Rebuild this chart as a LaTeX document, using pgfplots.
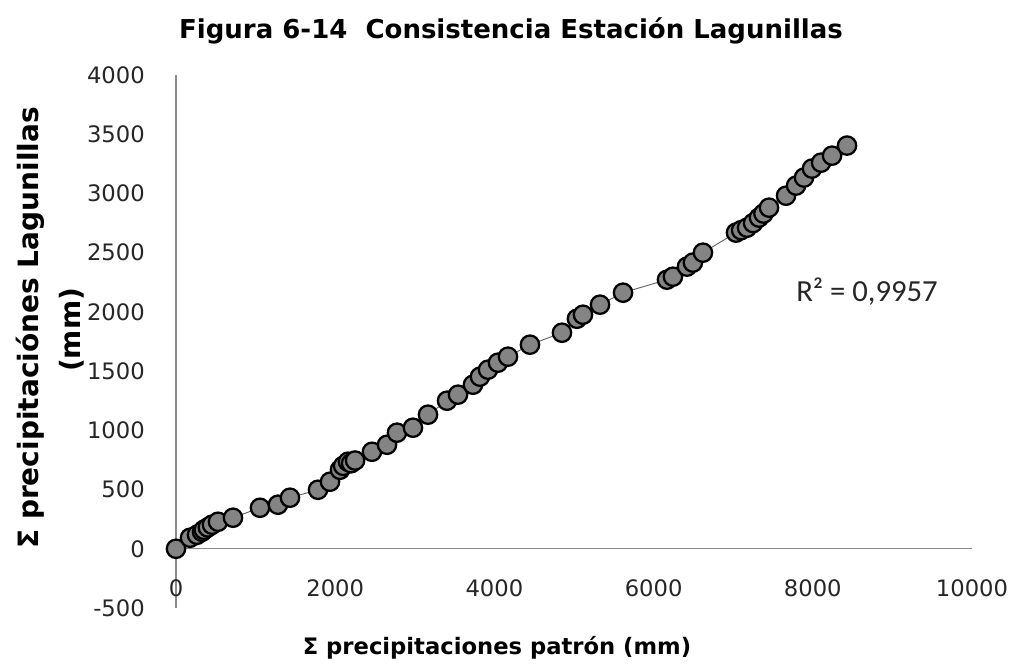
\documentclass[border=0pt]{standalone}
\usepackage{fontspec}
\setmainfont{DejaVu Sans}
\newfontfamily\carlito{Carlito}
\usepackage{pgfplots}
\usepackage{pgfplotstable}
\pgfplotsset{compat=1.18}
\definecolor{axisgray}{RGB}{137,137,137}
\definecolor{markgray}{RGB}{132,132,132}
\definecolor{trendgray}{RGB}{100,100,100}

\pgfplotstableread{
x y
0 0
176 93
264 118
327 143
350 160
400 180
452 203
528 228
716 262
1055 346
1281 372
1432 431
1784 498
1935 566
2060 667
2100 700
2161 735
2200 722
2250 745
2462 819
2651 878
2776 980
2977 1022
3166 1132
3405 1250
3543 1301
3731 1385
3819 1453
3920 1512
4045 1571
4171 1622
4447 1723
4849 1824
5037 1942
5113 1976
5327 2061
5616 2162
6168 2272
6243 2297
6419 2382
6494 2416
6620 2500
7035 2669
7100 2690
7174 2711
7250 2750
7324 2796
7380 2830
7450 2880
7664 2981
7790 3066
7890 3134
7990 3210
8104 3260
8242 3319
8430 3404
}\datatable

\begin{document}
\begin{tikzpicture}[x=1pt,y=1pt]
\path[use as bounding box] (-132,-46.5) rectangle (629.25,456);
\begin{axis}[
  at={(0,0)}, anchor=south west,
  scale only axis, width=597pt, height=399.75pt,
  xmin=0, xmax=10000, ymin=-500, ymax=4000,
  axis y line=left, axis x line=middle,
  axis line style={-, draw=axisgray, line width=0.9pt},
  hide obscured x ticks=false, hide obscured y ticks=false,
  xtick={0,2000,...,10000}, ytick={-500,0,...,4000},
  scaled x ticks=false, scaled y ticks=false,
  major tick length=0pt,
  /pgf/number format/assume math mode=true,
  /pgf/number format/1000 sep={},
  tick label style={font=\fontsize{17}{20}\selectfont, text=black!85, inner sep=0pt},
  xticklabel style={anchor=center, yshift=-29.25pt},
  yticklabel style={anchor=east, xshift=-23.25pt},
  clip=false,
]
\addplot[only marks, mark=*, mark size=6.9pt,
  mark options={fill=markgray, draw=black, line width=1.7pt}]
  table[x=x, y=y] {\datatable};
\addplot[trendgray, line width=0.7pt, no marks]
  table[x=x, y=y] {\datatable};
\node[font=\carlito\fontsize{23}{26}\selectfont, text=black!85] at (axis cs:8681,2171) {R² = 0,9957};
\end{axis}
\node[font=\bfseries\fontsize{19.5}{22}\selectfont] at (251.25,432.75) {Figura 6-14\ \ Consistencia Estación Lagunillas};
\node[font=\bfseries\fontsize{17}{20}\selectfont] at (240.75,-30) {Σ precipitaciones patrón (mm)};
\node[font=\bfseries\fontsize{21}{25}\selectfont, rotate=90] at (-109.5,210) {Σ precipitaciónes Lagunillas};
\node[font=\bfseries\fontsize{21}{25}\selectfont, rotate=90] at (-78,208.5) {(mm)};
\end{tikzpicture}
\end{document}
